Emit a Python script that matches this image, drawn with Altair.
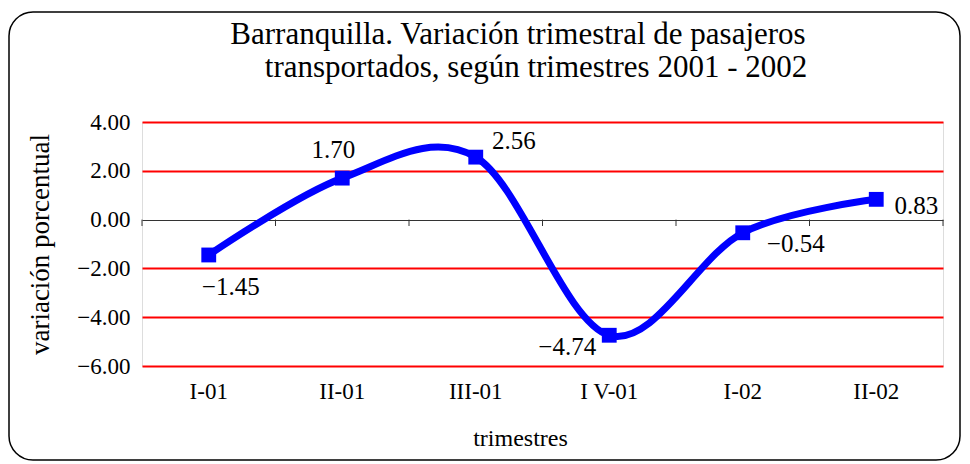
import altair as alt
import pandas as pd

trimestres = ["I-01", "II-01", "III-01", "I V-01", "I-02", "II-02"]
variacion = [-1.45, 1.70, 2.56, -4.74, -0.54, 0.83]
y_ticks = [-6, -4, -2, 0, 2, 4]
titulo = ["Barranquilla. Variación trimestral de pasajeros",
          "transportados, según trimestres 2001 - 2002"]

df = pd.DataFrame({"trimestre": trimestres, "variacion": variacion})

W, H = 801, 244
FONT = "Liberation Serif"
BLUE = "#0000FF"

x_enc = alt.X("trimestre:N", sort=trimestres,
              scale=alt.Scale(domain=trimestres, paddingInner=0, paddingOuter=0),
              axis=alt.Axis(title="trimestres", labelAngle=0, domain=False, ticks=False,
                            grid=False, labelPadding=14, labelFontSize=23,
                            labelFont=FONT, labelColor="black",
                            titleFont=FONT, titleFontSize=24, titleFontWeight="normal",
                            titleX=378, titleY=72, titleBaseline="middle",
                            titleColor="black"))
y_enc = alt.Y("variacion:Q",
              scale=alt.Scale(domain=[-6, 4], nice=False, zero=False),
              axis=alt.Axis(title="variación porcentual", values=y_ticks, format=".2f",
                            domain=False, ticks=False, labelPadding=12,
                            labelFontSize=23, labelFont=FONT, labelColor="black",
                            gridColor={"condition": {"test": "datum.value === 0", "value": "#333333"}, "value": "#FF0000"},
                            gridWidth={"condition": {"test": "datum.value === 0", "value": 1}, "value": 2},
                            titleFont=FONT, titleFontSize=27, titleFontWeight="normal",
                            titleColor="black", titleX=-102, titleY=H / 2,
                            titleAngle=-90, titleAlign="center", titleBaseline="middle"))

base = alt.Chart(df)

line = base.mark_line(interpolate="cardinal", color=BLUE, strokeWidth=7).encode(x=x_enc, y=y_enc)
pts = base.mark_square(size=220, color=BLUE, opacity=1).encode(x=x_enc, y=y_enc)

# boundary ticks on the zero line
ticks_left = base.mark_rule(color="#333333", strokeWidth=1).encode(
    x=alt.X("trimestre:N", sort=trimestres, bandPosition=0),
    y=alt.datum(0), y2=alt.value(104))
ticks_right = alt.Chart(df.tail(1)).mark_rule(color="#333333", strokeWidth=1).encode(
    x=alt.X("trimestre:N", sort=trimestres, bandPosition=1),
    y=alt.datum(0), y2=alt.value(104))

label_offsets = {
    "I-01": (22, 32), "II-01": (-9, -28), "III-01": (38, -16),
    "I V-01": (-42, 12), "I-02": (53, 11), "II-02": (40, 7),
}
labels = []
for cat, (ddx, ddy) in label_offsets.items():
    labels.append(
        base.transform_filter(alt.datum.trimestre == cat).mark_text(
            font=FONT, fontSize=25, color="black", dx=ddx, dy=ddy,
            align="center", baseline="middle"
        ).encode(x=x_enc, y=y_enc, text=alt.Text("variacion:Q", format=".2f"))
    )

title_marks = [
    alt.Chart(alt.Data(values=[{}])).mark_text(
        text=titulo[0], font=FONT, fontSize=31, color="black",
        align="center", baseline="middle"
    ).encode(x=alt.value(376), y=alt.value(-87)),
    alt.Chart(alt.Data(values=[{}])).mark_text(
        text=titulo[1], font=FONT, fontSize=31, color="black",
        align="center", baseline="middle"
    ).encode(x=alt.value(394), y=alt.value(-54)),
]

border = alt.Chart(alt.Data(values=[{}])).mark_rect(
    fill=None, stroke="black", strokeWidth=1.5, cornerRadius=24
).encode(x=alt.value(-133), x2=alt.value(818), y=alt.value(-110), y2=alt.value(338))

chart = alt.layer(line, ticks_left, ticks_right, pts, *labels, *title_marks, border).properties(
    width=W, height=H,
    autosize="none",
    padding={"left": 134, "top": 114, "right": 19, "bottom": 96},
).configure_view(stroke=None).configure(background="white", font=FONT)

chart.save("out.html", embed_options={"renderer": "svg", "actions": False})
